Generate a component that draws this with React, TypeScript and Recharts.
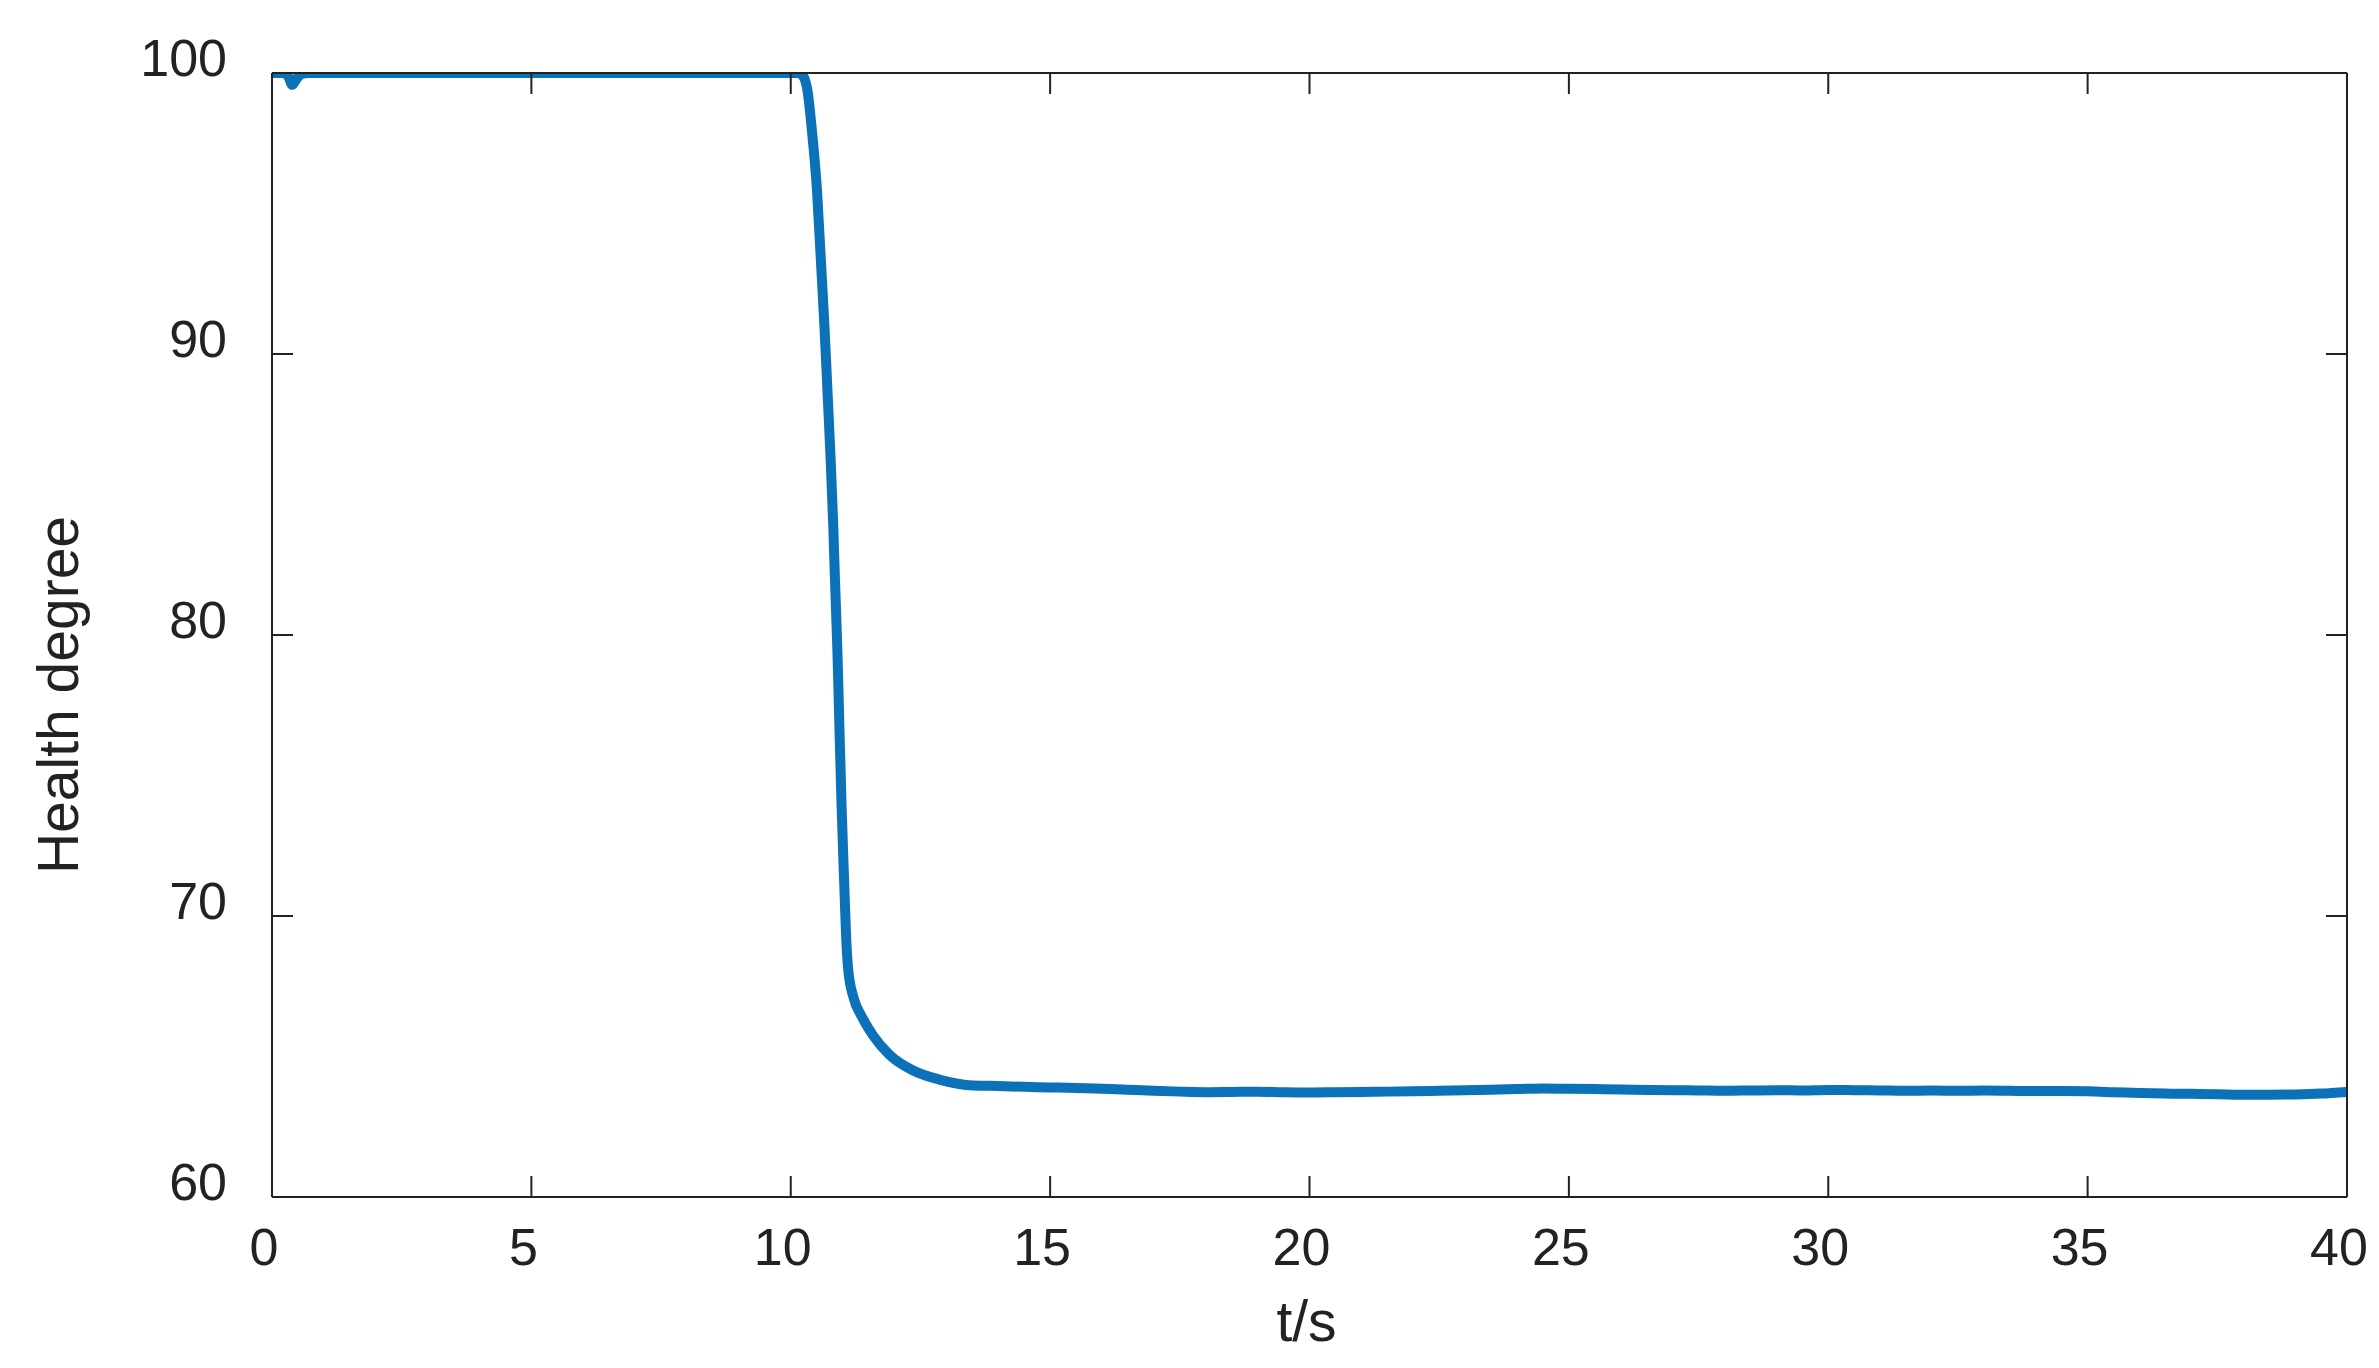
import { LineChart, Line, XAxis, YAxis } from 'recharts';

// time in seconds, health degree readings
const timeS = [
  0, 0.25, 0.32, 0.39, 0.46, 0.55, 0.7, 5, 10, 10.15, 10.25, 10.33, 10.4, 10.51, 10.58,
  10.65, 10.71, 10.77, 10.82, 10.85, 10.9, 10.94, 10.98, 11.03, 11.07, 11.11, 11.21,
  11.37, 11.59, 11.91, 12.36, 12.88, 13.52, 14, 14.5, 15, 15.5, 16, 16.5, 17, 17.5, 18,
  18.5, 19, 19.5, 20, 20.5, 21, 21.5, 22, 22.5, 23, 23.5, 24, 24.5, 25, 25.5, 26, 26.5,
  27, 27.5, 28, 28.5, 29, 29.5, 30, 30.5, 31, 31.5, 32, 32.5, 33, 33.5, 34, 34.5, 35,
  35.5, 36, 36.5, 37, 37.5, 38, 38.5, 39, 39.5, 40,
];

const healthDegree = [
  100, 100, 99.85, 99.58, 99.75, 99.95, 100, 100, 100, 100, 99.85, 99.28, 98.1, 95.7,
  93.35, 90.97, 88.6, 86.2, 83.85, 82.1, 79.4, 76.6, 73.9, 71.2, 69.15, 68.05, 67.1,
  66.42, 65.74, 65.05, 64.5, 64.17, 63.97, 63.95, 63.92, 63.9, 63.88, 63.85, 63.82,
  63.78, 63.75, 63.73, 63.74, 63.75, 63.73, 63.72, 63.73, 63.74, 63.75, 63.76, 63.78,
  63.8, 63.82, 63.84, 63.86, 63.85, 63.84, 63.83, 63.81, 63.8, 63.79, 63.78, 63.79,
  63.8, 63.79, 63.81, 63.8, 63.79, 63.78, 63.79, 63.78, 63.79, 63.78, 63.77, 63.77,
  63.76, 63.73, 63.7, 63.68, 63.67, 63.66, 63.64, 63.64, 63.65, 63.68, 63.74,
];

const xTicks = [0, 5, 10, 15, 20, 25, 30, 35, 40];
const yTicks = [60, 70, 80, 90, 100];

const data = timeS.map((t, i) => ({ t, h: healthDegree[i] }));

const INK = '#222222';
const FONT = '"Liberation Sans", Arial, Helvetica, sans-serif';
const TICK_LEN = 21;
const AXIS_STYLE = { stroke: INK, strokeWidth: 2 };

function BottomTick({ x, y, payload }: any) {
  return (
    <g>
      <line x1={x} x2={x} y1={y} y2={y - TICK_LEN} stroke={INK} strokeWidth={2} />
      <text x={x - 8} y={y + 68} textAnchor="middle" fontSize={52} fontFamily={FONT} fill={INK}>
        {payload.value}
      </text>
    </g>
  );
}

function TopTick({ x, y }: any) {
  return <line x1={x} x2={x} y1={y} y2={y + TICK_LEN} stroke={INK} strokeWidth={2} />;
}

function LeftTick({ x, y, payload }: any) {
  return (
    <g>
      <line x1={x} x2={x + TICK_LEN} y1={y} y2={y} stroke={INK} strokeWidth={2} />
      <text x={x - 45} y={y + 3} textAnchor="end" fontSize={52} fontFamily={FONT} fill={INK}>
        {payload.value}
      </text>
    </g>
  );
}

function RightTick({ x, y }: any) {
  return <line x1={x} x2={x - TICK_LEN} y1={y} y2={y} stroke={INK} strokeWidth={2} />;
}

export default function App() {
  return (
    <div style={{ position: 'absolute', left: 0, top: 0, background: '#fff' }}>
      <LineChart
        width={2379}
        height={1368}
        data={data}
        margin={{ top: 72, right: 31, bottom: 0, left: 0 }}
      >
        <XAxis
          dataKey="t"
          type="number"
          domain={[0, 40]}
          ticks={xTicks}
          allowDataOverflow
          height={171}
          tickSize={0}
          tickMargin={0}
          tickLine={false}
          axisLine={AXIS_STYLE}
          tick={<BottomTick />}
          label={{
            content: ({ viewBox }: any) => (
              <text
                x={viewBox.x + viewBox.width / 2 - 3}
                y={viewBox.y + 144}
                textAnchor="middle"
                fontSize={57}
                fontFamily={FONT}
                fill={INK}
              >
                t/s
              </text>
            ),
          }}
        />
        <XAxis
          xAxisId="top"
          orientation="top"
          dataKey="t"
          type="number"
          domain={[0, 40]}
          ticks={xTicks}
          allowDataOverflow
          height={1}
          tickSize={0}
          tickMargin={0}
          tickLine={false}
          axisLine={AXIS_STYLE}
          tick={<TopTick />}
        />
        <YAxis
          type="number"
          domain={[60, 100]}
          ticks={yTicks}
          allowDataOverflow
          width={272}
          tickSize={0}
          tickMargin={0}
          tickLine={false}
          axisLine={AXIS_STYLE}
          tick={<LeftTick />}
          label={{
            content: ({ viewBox }: any) => {
              const cx = 78;
              const cy = viewBox.y + viewBox.height / 2 + 60;
              return (
                <text
                  x={cx}
                  y={cy}
                  transform={`rotate(-90, ${cx}, ${cy})`}
                  textAnchor="middle"
                  fontSize={57}
                  fontFamily={FONT}
                  fill={INK}
                >
                  Health degree
                </text>
              );
            },
          }}
        />
        <YAxis
          yAxisId="right"
          orientation="right"
          type="number"
          domain={[60, 100]}
          ticks={yTicks}
          allowDataOverflow
          width={1}
          tickSize={0}
          tickMargin={0}
          tickLine={false}
          axisLine={AXIS_STYLE}
          tick={<RightTick />}
        />
        <Line
          xAxisId="top"
          yAxisId="right"
          dataKey="h"
          stroke="none"
          dot={false}
          activeDot={false}
          isAnimationActive={false}
        />
        <Line
          type="monotone"
          dataKey="h"
          stroke="#0B72B9"
          strokeWidth={10}
          dot={false}
          activeDot={false}
          isAnimationActive={false}
        />
      </LineChart>
    </div>
  );
}
